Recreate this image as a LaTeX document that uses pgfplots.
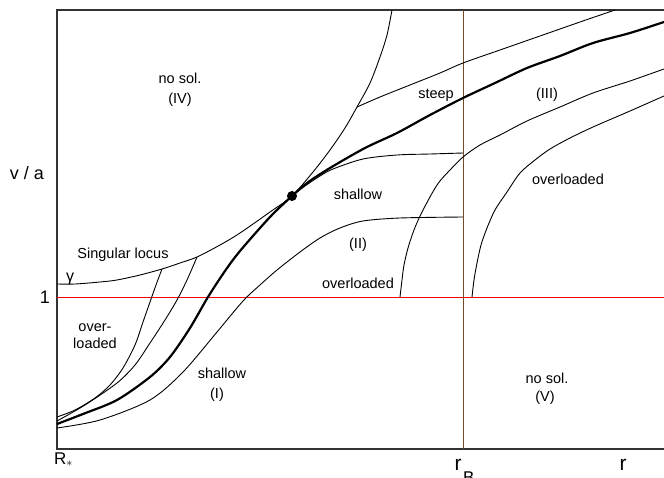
\documentclass[border=0pt]{standalone}
\usepackage{fontspec}
\setmainfont{Liberation Sans}
\usepackage{pgfplots}
\pgfplotsset{compat=1.18}
\begin{document}
\begin{tikzpicture}
\begin{axis}[
  width=664pt, height=478pt, scale only axis,
  xmin=0, xmax=664, ymin=0, ymax=478, y dir=reverse,
  hide axis, clip=false,
  every axis plot/.append style={black, line width=0.9pt, no marks},
  nodes={font=\fontsize{14.5}{17}\selectfont, inner sep=0pt},
]
\coordinate (ll) at (axis cs:0,478);
\coordinate (ur) at (axis cs:664,0);
% frame
\addplot[line width=1.1pt, color=black!80] coordinates {(664,10) (57,10) (57,449) (664,449)};
% y = 1 line
\addplot coordinates {(57,297) (664,297)};
% r_B line
\addplot coordinates {(463,10) (463,449)};
% singular locus
\addplot[smooth, tension=0.5] coordinates {(57,284) (75,284) (100,282) (117,280) (140,275) (162,269) (180,263) (197,257) (220,245) (240,233) (270,212) (292,196) (313,172) (330,150) (345,128) (357,107) (370,83) (380,57) (387,35) (392,10)};
% thick critical curve
\addplot[smooth, tension=0.5, line width=2.2pt] coordinates {(57,424) (83,414) (117,400) (150,377) (170,357) (190,328) (208,297) (225,271) (240,251) (270,217) (292,196) (307,183) (330,168) (365,148) (397,133) (430,115) (463,98) (495,83) (527,68) (560,56) (593,43) (630,33) (664,22)};
% upper shallow
\addplot[smooth, tension=0.5] coordinates {(292,196) (305,186) (320,176) (333,169) (363,159) (397,155) (430,154) (463,153)};
% steep
\addplot[smooth, tension=0.5] coordinates {(357,107) (380,97) (410,85) (440,73) (463,63) (500,50) (540,36) (580,22) (615,10)};
% lower shallow (I)-(II)
\addplot[smooth, tension=0.5] coordinates {(57,428) (100,420) (150,400) (183,372) (217,332) (243,301) (260,285) (277,270) (300,252) (320,238) (340,228) (363,221) (400,218) (463,217)};
% overloaded left A
\addplot[smooth, tension=0.5] coordinates {(57,417) (75,410) (95,398) (110,385) (123,368) (135,345) (143,322) (150,302) (156,285) (162,269)};
% overloaded left B
\addplot[smooth, tension=0.5] coordinates {(57,421) (85,405) (117,383) (135,365) (150,343) (165,320) (177,300) (187,280) (197,257)};
% overloaded (II)
\addplot[smooth, tension=0.5] coordinates {(400,297) (402,280) (404,265) (408,248) (414,230) (422,212) (437,185) (450,170) (463,157) (480,145) (500,135) (527,121) (560,107) (593,93) (630,81) (664,69)};
% overloaded (III)
\addplot[smooth, tension=0.5] coordinates {(472,297) (474,280) (477,263) (481,245) (487,228) (495,210) (507,192) (520,173) (535,160) (550,149) (570,138) (593,127) (630,111) (664,96)};
% critical point
\addplot[only marks, mark=*, mark size=4.5pt] coordinates {(292,196)};
% labels
\node at (axis cs:180,78) {no sol.};
\node at (axis cs:180,100) {(IV)};
\node at (axis cs:123,255) {Singular locus};
\node[font=\fontsize{16}{18}\selectfont, anchor=base] at (axis cs:70,282) {γ};
\node at (axis cs:95,328) {over-};
\node at (axis cs:95,343) {loaded};
\node at (axis cs:222,373) {shallow};
\node at (axis cs:217,395) {(I)};
\node at (axis cs:358,245) {(II)};
\node at (axis cs:358,283) {overloaded};
\node at (axis cs:358,194) {shallow};
\node at (axis cs:436,95) {steep};
\node at (axis cs:547,95) {(III)};
\node at (axis cs:568,179) {overloaded};
\node at (axis cs:547,378) {no sol.};
\node at (axis cs:545,398) {(V)};
\node[font=\fontsize{18}{20}\selectfont] at (axis cs:27,173) {v / a};
\node[font=\fontsize{18}{20}\selectfont] at (axis cs:45,297) {1};
\node[font=\fontsize{17}{20}\selectfont, anchor=base west] at (axis cs:54,464) {R\raisebox{-2pt}{\fontsize{12}{12}\selectfont$\ast$}};
\node[font=\fontsize{21}{22}\selectfont, anchor=base] at (axis cs:458,470) {r};
\node[font=\fontsize{17}{20}\selectfont, anchor=base west] at (axis cs:463,483) {B};
\node[font=\fontsize{21}{22}\selectfont, anchor=base] at (axis cs:623,470) {r};
\end{axis}
\pgfresetboundingbox
\path (ll) rectangle (ur);
\end{tikzpicture}
\end{document}
